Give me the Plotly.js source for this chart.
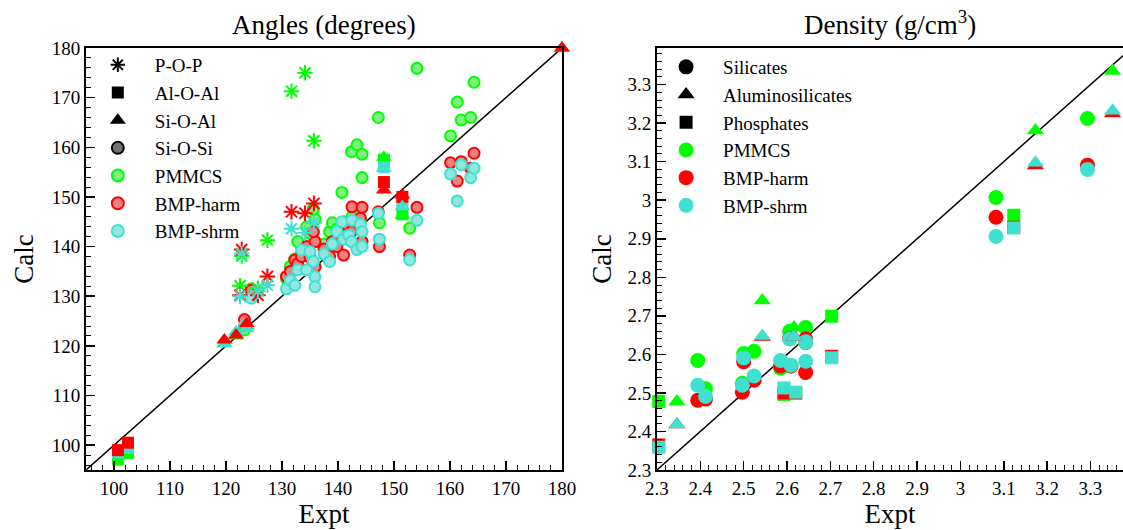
<!DOCTYPE html>
<html>
<head>
<meta charset="utf-8">
<script src="https://cdn.plot.ly/plotly-3.0.1.min.js"></script>
<style>html,body{margin:0;padding:0;background:#fff;}#chart{width:1123px;height:530px;}</style>
</head>
<body>
<div id="chart"></div>
<script>
// ---------------- Left panel: bond angles (degrees) ----------------
// Si-O-Si (circles)
const sioSi_expt = [123.3,124.5,130.8,131.5,132.3,132.8,133.5,134.4,135.0,135.9,135.9,135.6,137.5,138.5,139.0,139.8,140.7,141.0,141.9,142.4,142.5,143.4,144.0,144.3,144.3,147.4,147.2,152.8,154.1,160.1,161.3,162.0,163.7,164.3];
const sioSi_pmmcs = [123.2,131.5,133.5,136.0,137.5,141.0,139.0,144.0,142.7,145.5,136.0,147.5,140.5,143.0,144.8,143.5,150.9,145.0,144.0,159.1,146.0,160.5,145.0,153.9,158.6,144.8,166.0,143.7,175.9,162.3,169.1,165.5,166.0,173.1];
const sioSi_harm  = [125.3,131.2,134.0,135.0,137.3,136.5,138.0,140.0,137.8,141.0,135.9,143.0,139.5,138.0,141.0,140.0,142.5,138.3,144.0,143.0,148.0,139.8,145.7,147.9,141.0,140.0,147.0,138.3,147.9,156.9,153.2,157.1,155.8,158.8];
const sioSi_shrm  = [124.0,129.6,131.5,133.2,132.2,135.3,139.3,135.3,139.0,133.9,131.9,137.0,138.5,137.0,140.5,143.0,145.0,141.5,142.3,141.0,145.3,139.4,144.5,143.0,140.0,141.5,146.7,137.3,145.3,154.6,149.2,156.5,153.9,155.8];
// P-O-P (asterisks)
const pop_expt  = [122.5,122.8,125.7,127.4,131.7,134.1,135.7];
const pop_pmmcs = [132.1,138.1,131.6,141.3,171.3,175.0,161.3];
const pop_harm  = [130.2,139.4,130.2,134.0,147.0,146.7,148.7];
const pop_shrm  = [130.0,138.6,131.0,132.2,143.6,142.8,144.8];
// Al-O-Al (squares)
const alal_expt  = [100.7,102.5,148.2,151.5];
const alal_pmmcs = [97.1,98.4,157.5,146.5];
const alal_harm  = [99.0,100.5,153.0,150.0];
const alal_shrm  = [98.5,99.5,156.0,148.5];
// Si-O-Al (triangles)
const sial_expt  = [119.7,121.8,123.7,148.2,151.5,180.0];
const sial_pmmcs = [120.5,122.0,124.0,158.0,146.3,180.0];
const sial_harm  = [121.2,122.2,124.5,151.4,150.4,180.0];
const sial_shrm  = [120.4,122.8,123.5,155.8,148.0,180.0];

// ---------------- Right panel: density (g/cm3) ----------------
const sil_expt  = [2.394,2.412,2.500,2.524,2.497,2.585,2.609,2.606,2.643,2.643,3.082,3.293];
const sil_pmmcs = [2.584,2.511,2.602,2.608,2.525,2.564,2.570,2.660,2.670,2.630,3.007,3.212];
const sil_harm  = [2.481,2.484,2.581,2.533,2.502,2.570,2.570,2.641,2.640,2.553,2.956,3.091];
const sil_shrm  = [2.520,2.491,2.591,2.544,2.520,2.584,2.572,2.640,2.633,2.582,2.906,3.080];
const alsil_expt  = [2.346,2.543,2.616,3.173,3.351];
const alsil_pmmcs = [2.478,2.740,2.670,3.181,3.335];
const alsil_harm  = [2.418,2.645,2.646,3.090,3.225];
const alsil_shrm  = [2.418,2.648,2.646,3.097,3.232];
const phos_expt  = [2.304,2.593,2.620,2.703,3.123];
const phos_pmmcs = [2.478,2.496,2.500,2.699,2.961];
const phos_harm  = [2.365,2.500,2.500,2.595,2.930];
const phos_shrm  = [2.359,2.513,2.502,2.591,2.928];

const parityAngles = [95,180];
const parityDensity = [2.3,3.5];

const GREEN='#00ff00', RED='#ff0000', CYAN='#40e0d0';
const GFILL='#80f080', RFILL='#f08080', CFILL='#8fe8df';

function circ(x,y,line,fill){return {type:'scatter',mode:'markers',x:x,y:y,xaxis:'x',yaxis:'y',showlegend:false,hoverinfo:'skip',
  marker:{symbol:'circle',size:11,color:fill,line:{color:line,width:2}}};}
function star(x,y,c){return {type:'scatter',mode:'markers',x:x,y:y,xaxis:'x',yaxis:'y',showlegend:false,hoverinfo:'skip',
  marker:{symbol:'asterisk-open',size:13,color:c,line:{color:c,width:2}}};}
function solid(x,y,c,sym,size,ax){return {type:'scatter',mode:'markers',x:x,y:y,xaxis:ax[0],yaxis:ax[1],showlegend:false,hoverinfo:'skip',cliponaxis:false,
  marker:{symbol:sym,size:size,color:c,line:{width:0}}};}

const traces = [
  {type:'scatter',mode:'lines',x:parityAngles,y:parityAngles,xaxis:'x',yaxis:'y',showlegend:false,hoverinfo:'skip',line:{color:'#000',width:1.5}},
  {type:'scatter',mode:'lines',x:parityDensity,y:parityDensity,xaxis:'x2',yaxis:'y2',showlegend:false,hoverinfo:'skip',line:{color:'#000',width:1.5}},
  circ(sioSi_expt,sioSi_pmmcs,GREEN,GFILL),
  circ(sioSi_expt,sioSi_harm,RED,RFILL),
  circ(sioSi_expt,sioSi_shrm,CYAN,CFILL),
  star(pop_expt,pop_pmmcs,GREEN),
  star(pop_expt,pop_harm,RED),
  star(pop_expt,pop_shrm,CYAN),
  solid(alal_expt,alal_pmmcs,GREEN,'square',12,['x','y']),
  solid(alal_expt,alal_shrm,CYAN,'square',12,['x','y']),
  solid(alal_expt,alal_harm,RED,'square',12,['x','y']),
  solid(sial_expt,sial_pmmcs,GREEN,'triangle-up',14,['x','y']),
  solid(sial_expt,sial_shrm,CYAN,'triangle-up',14,['x','y']),
  solid(sial_expt,sial_harm,RED,'triangle-up',14,['x','y']),
  // right panel
  solid(sil_expt,sil_pmmcs,GREEN,'circle',15,['x2','y2']),
  solid(sil_expt,sil_harm,RED,'circle',15,['x2','y2']),
  solid(sil_expt,sil_shrm,CYAN,'circle',15,['x2','y2']),
  solid(alsil_expt,alsil_pmmcs,GREEN,'triangle-up',15,['x2','y2']),
  solid(alsil_expt,alsil_harm,RED,'triangle-up',15,['x2','y2']),
  solid(alsil_expt,alsil_shrm,CYAN,'triangle-up',15,['x2','y2']),
  solid(phos_expt,phos_pmmcs,GREEN,'square',13,['x2','y2']),
  solid(phos_expt,phos_harm,RED,'square',13,['x2','y2']),
  solid(phos_expt,phos_shrm,CYAN,'square',13,['x2','y2'])
];

// legend entries
const leftLegend = [
  ['P-O-P',{symbol:'asterisk-open',size:12,color:'#000',line:{color:'#000',width:2}}],
  ['Al-O-Al',{symbol:'square',size:12,color:'#000'}],
  ['Si-O-Al',{symbol:'triangle-up',size:14,color:'#000'}],
  ['Si-O-Si',{symbol:'circle',size:12,color:'#707070',line:{color:'#000',width:2}}],
  ['PMMCS',{symbol:'circle',size:12,color:GFILL,line:{color:GREEN,width:2}}],
  ['BMP-harm',{symbol:'circle',size:12,color:RFILL,line:{color:RED,width:2}}],
  ['BMP-shrm',{symbol:'circle',size:12,color:CFILL,line:{color:CYAN,width:2}}]
];
leftLegend.forEach(function(e){traces.push({type:'scatter',mode:'markers',x:[null],y:[null],xaxis:'x',yaxis:'y',name:e[0],legend:'legend',marker:e[1]});});
const rightLegend = [
  ['Silicates',{symbol:'circle',size:15,color:'#000'}],
  ['Aluminosilicates',{symbol:'triangle-up',size:15,color:'#000'}],
  ['Phosphates',{symbol:'square',size:13,color:'#000'}],
  ['PMMCS',{symbol:'circle',size:15,color:GREEN}],
  ['BMP-harm',{symbol:'circle',size:15,color:RED}],
  ['BMP-shrm',{symbol:'circle',size:15,color:CYAN}]
];
rightLegend.forEach(function(e){traces.push({type:'scatter',mode:'markers',x:[null],y:[null],xaxis:'x2',yaxis:'y2',name:e[0],legend:'legend2',marker:e[1]});});

const FONT = 'Liberation Serif';
function axisBase(){return {showgrid:false,zeroline:false,showline:true,linecolor:'#000',linewidth:2,mirror:true,
  ticks:'inside',ticklen:9,tickwidth:1.5,tickcolor:'#000',tickfont:{family:FONT,size:19,color:'#000'}};}

const xa = Object.assign(axisBase(),{domain:[0,0.459],range:[95,180],dtick:10,tick0:100,
  minor:{ticks:'inside',ticklen:5,dtick:2,tickcolor:'#000',tickwidth:1},
  title:{text:'Expt',font:{family:FONT,size:27,color:'#000'},standoff:4},anchor:'y'});
const ya = Object.assign(axisBase(),{domain:[0,1],range:[95,180],dtick:10,tick0:100,
  minor:{ticks:'inside',ticklen:5,dtick:2,tickcolor:'#000',tickwidth:1},
  title:{text:'Calc',font:{family:FONT,size:27,color:'#000'},standoff:10},anchor:'x'});
const xa2 = Object.assign(axisBase(),{domain:[0.5506,1],range:[2.3,3.375],dtick:0.1,tick0:2.3,
  minor:{ticks:'inside',ticklen:5,dtick:0.02,tickcolor:'#000',tickwidth:1},
  title:{text:'Expt',font:{family:FONT,size:27,color:'#000'},standoff:4},anchor:'y2'});
const ya2 = Object.assign(axisBase(),{domain:[0,1],range:[2.3,3.395],dtick:0.1,tick0:2.3,
  minor:{ticks:'inside',ticklen:5,dtick:0.02,tickcolor:'#000',tickwidth:1},
  title:{text:'Calc',font:{family:FONT,size:27,color:'#000'},standoff:8},anchor:'x2'});

const layout = {
  width:1123,height:530,margin:{l:86,r:0,t:48,b:60},
  paper_bgcolor:'#fff',plot_bgcolor:'#fff',
  font:{family:FONT,color:'#000'},
  xaxis:xa,yaxis:ya,xaxis2:xa2,yaxis2:ya2,
  legend:{x:-0.005,y:1.005,xanchor:'left',yanchor:'top',bgcolor:'rgba(0,0,0,0)',font:{family:FONT,size:19,color:'#000'},tracegroupgap:0,itemwidth:64},
  legend2:{x:0.543,y:1.0,xanchor:'left',yanchor:'top',bgcolor:'rgba(0,0,0,0)',font:{family:FONT,size:19,color:'#000'},tracegroupgap:0,itemwidth:64},
  annotations:[
    {text:'Angles (degrees)',xref:'paper',yref:'paper',x:0.2295,y:1,yshift:6,xanchor:'center',yanchor:'bottom',showarrow:false,font:{family:FONT,size:27,color:'#000'}},
    {text:'Density (g/cm<sup>3</sup>)',xref:'paper',yref:'paper',x:0.775,y:1,yshift:6,xanchor:'center',yanchor:'bottom',showarrow:false,font:{family:FONT,size:27,color:'#000'}}
  ]
};

Plotly.newPlot('chart',traces,layout,{staticPlot:true,displayModeBar:false});
</script>
</body>
</html>
